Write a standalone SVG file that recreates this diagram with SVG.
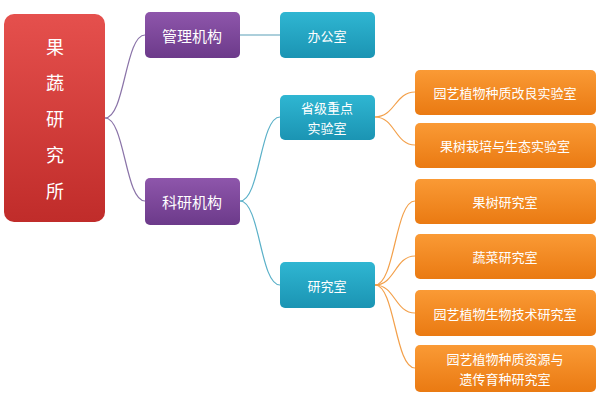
<svg xmlns="http://www.w3.org/2000/svg" width="600" height="404" viewBox="0 0 600 404">
<defs>
<linearGradient id="gr" x1="0" y1="0" x2="0" y2="1"><stop offset="0" stop-color="#e5504d"/><stop offset="1" stop-color="#c02c2a"/></linearGradient>
<linearGradient id="gp" x1="0" y1="0" x2="0" y2="1"><stop offset="0" stop-color="#8e56ab"/><stop offset="1" stop-color="#6c3a8a"/></linearGradient>
<linearGradient id="gt" x1="0" y1="0" x2="0" y2="1"><stop offset="0" stop-color="#2fb6d2"/><stop offset="1" stop-color="#1b94b3"/></linearGradient>
<linearGradient id="go" x1="0" y1="0" x2="0" y2="1"><stop offset="0" stop-color="#fa9a35"/><stop offset="1" stop-color="#ea7a12"/></linearGradient>
</defs>
<style>
text{font-family:"Noto Sans CJK SC","Noto Sans",sans-serif;fill:#fff;text-anchor:middle;dominant-baseline:central}
.r{fill:url(#gr)}.p{fill:url(#gp)}.t{fill:url(#gt)}.o{fill:url(#go)}
.c path{fill:none;stroke-width:1.2}
.big{font-size:18px}.m{font-size:15px}.s{font-size:13px}
</style>
<rect width="600" height="404" fill="#fff"/>
<g class="c">
<path d="M105 118 C125 118,125 35,145 35" stroke="#8a73a8"/>
<path d="M105 118 C125 118,125 201,145 201" stroke="#8a73a8"/>
<path d="M240 35 L280 35" stroke="#5a9fb8"/>
<path d="M240 201 C260 201,260 117,280 117" stroke="#5ab0c8"/>
<path d="M240 201 C260 201,260 285,280 285" stroke="#5ab0c8"/>
<path d="M375 117 C395 117,395 92,415 92" stroke="#f3a04a"/>
<path d="M375 117 C395 117,395 145,415 145" stroke="#f3a04a"/>
<path d="M375 285 C395 285,395 201,415 201" stroke="#f3a04a"/>
<path d="M375 285 C395 285,395 256,415 256" stroke="#f3a04a"/>
<path d="M375 285 C395 285,395 313,415 313" stroke="#f3a04a"/>
<path d="M375 285 C395 285,395 368,415 368" stroke="#f3a04a"/>
</g>
<g id="root"><rect class="r" x="4" y="14" width="101" height="208" rx="10"/>
<text class="big" x="55" y="46">果</text><text class="big" x="55" y="82">蔬</text><text class="big" x="55" y="118">研</text><text class="big" x="55" y="154">究</text><text class="big" x="55" y="190">所</text></g>
<g id="n1"><rect class="p" x="145" y="12" width="95" height="46" rx="5"/><text class="m" x="192" y="35">管理机构</text></g>
<g id="n2"><rect class="p" x="145" y="178" width="95" height="47" rx="5"/><text class="m" x="192" y="201">科研机构</text></g>
<g id="n3"><rect class="t" x="280" y="12" width="95" height="46" rx="5"/><text class="s" x="327" y="35">办公室</text></g>
<g id="n4"><rect class="t" x="280" y="95" width="95" height="45" rx="5"/><text class="s" x="327" y="107">省级重点</text><text class="s" x="327" y="127">实验室</text></g>
<g id="n5"><rect class="t" x="280" y="262" width="95" height="46" rx="5"/><text class="s" x="327" y="285">研究室</text></g>
<g id="o1"><rect class="o" x="415" y="70" width="181" height="45" rx="5"/><text class="s" x="505" y="92">园艺植物种质改良实验室</text></g>
<g id="o2"><rect class="o" x="415" y="123" width="181" height="45" rx="5"/><text class="s" x="505" y="145">果树栽培与生态实验室</text></g>
<g id="o3"><rect class="o" x="415" y="179" width="181" height="45" rx="5"/><text class="s" x="505" y="201">果树研究室</text></g>
<g id="o4"><rect class="o" x="415" y="234" width="181" height="45" rx="5"/><text class="s" x="505" y="256">蔬菜研究室</text></g>
<g id="o5"><rect class="o" x="415" y="290" width="181" height="46" rx="5"/><text class="s" x="505" y="313">园艺植物生物技术研究室</text></g>
<g id="o6"><rect class="o" x="415" y="345" width="181" height="47" rx="5"/><text class="s" x="505" y="358">园艺植物种质资源与</text><text class="s" x="505" y="378">遗传育种研究室</text></g>
</svg>
